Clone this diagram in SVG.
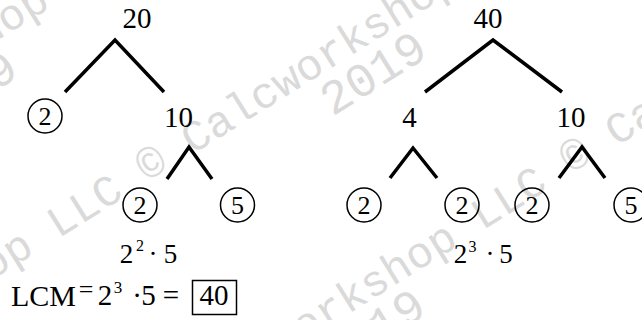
<svg xmlns="http://www.w3.org/2000/svg" width="642" height="320" viewBox="0 0 642 320">
<defs>
<style>
.wm{font-family:"Liberation Mono","Courier New",monospace;font-weight:normal;font-size:44px;fill:#dadada}
.wmy{font-size:48px;text-anchor:middle}
.lbl{font-family:"Liberation Serif","Times New Roman",serif;font-size:29px;fill:#000;text-anchor:middle}
.cl{font-family:"Liberation Serif","Times New Roman",serif;font-size:26px;fill:#000;text-anchor:middle}
.ring{fill:none;stroke:#000;stroke-width:1.5}
.edge{fill:none;stroke:#000;stroke-width:3.5;stroke-linejoin:miter;stroke-linecap:butt}
.eq{font-family:"Liberation Serif","Times New Roman",serif;fill:#000;text-anchor:middle}
.box{fill:none;stroke:#000;stroke-width:1.5}
</style>
</defs>
<rect width="642" height="320" fill="#fff"/>
<g id="watermark" class="wm">
  <g transform="translate(151,163) rotate(-32)">
    <text x="-462" y="15">Calcworkshop LLC © Calcworkshop LLC © Calcworkshop LLC ©</text>
    <text class="wmy" x="236" y="57">2019</text>
    <text class="wmy" x="-265.6" y="57">2019</text>
  </g>
  <g transform="translate(575,155) rotate(-32)">
    <text x="-462" y="15">Calcworkshop LLC © Calcworkshop LLC © Calcworkshop LLC ©</text>
    <text class="wmy" x="-265.6" y="57">2019</text>
  </g>
  <g transform="translate(167,-83) rotate(-32)">
    <text x="-462" y="15">Calcworkshop LLC © Calcworkshop LLC © Calcworkshop LLC ©</text>
    <text class="wmy" x="-265.6" y="57">2019</text>
  </g>
</g>
<g id="connectors">
  <polyline class="edge" points="65,92 115,40 164,92"/>
  <polyline class="edge" points="425,92 493,40 562,92"/>
  <polyline class="edge" points="167,179 189,147 212,179"/>
  <polyline class="edge" points="390,178 413,148 437,178"/>
  <polyline class="edge" points="559,178 582,147 605,178"/>
</g>
<g id="n20"><text class="lbl" x="137" y="28">20</text></g>
<g id="n2a"><circle class="ring" cx="45" cy="116" r="17"/><text class="cl" x="45" y="125">2</text></g>
<g id="n10a"><text class="lbl" x="178.5" y="127">10</text></g>
<g id="n2b"><circle class="ring" cx="140" cy="205" r="17"/><text class="cl" x="140" y="214">2</text></g>
<g id="n5a"><circle class="ring" cx="237.5" cy="205" r="17"/><text class="cl" x="237.5" y="214">5</text></g>
<g id="n40"><text class="lbl" x="488" y="28">40</text></g>
<g id="n4"><text class="lbl" x="409.5" y="127">4</text></g>
<g id="n10b"><text class="lbl" x="571" y="127">10</text></g>
<g id="n2c"><circle class="ring" cx="364" cy="205" r="17"/><text class="cl" x="364" y="214">2</text></g>
<g id="n2d"><circle class="ring" cx="462" cy="205" r="17"/><text class="cl" x="462" y="214">2</text></g>
<g id="n2e"><circle class="ring" cx="532" cy="205" r="17"/><text class="cl" x="532" y="214">2</text></g>
<g id="n5b"><circle class="ring" cx="631" cy="205" r="17"/><text class="cl" x="631" y="214">5</text></g>
<g id="eq-left">
  <text class="eq" font-size="27"><tspan x="126.5" y="263">2</tspan><tspan x="140" y="251" font-size="16">2</tspan><tspan x="153" y="263">·</tspan><tspan x="170.5" y="263">5</tspan></text>
</g>
<g id="eq-right">
  <text class="eq" font-size="27"><tspan x="460.5" y="263">2</tspan><tspan x="472.5" y="252" font-size="16">3</tspan><tspan x="490" y="263">·</tspan><tspan x="506" y="263">5</tspan></text>
</g>
<g id="eq-lcm">
  <text class="eq" font-size="29"><tspan x="43.5" y="306" font-size="30">LCM</tspan><tspan x="86" y="298" font-size="26">=</tspan><tspan x="105" y="305">2</tspan><tspan x="118" y="293" font-size="17">3</tspan><tspan x="137" y="305">·</tspan><tspan x="148.5" y="305">5</tspan><tspan x="171" y="305">=</tspan><tspan x="214" y="305">40</tspan></text>
  <rect class="box" x="192.5" y="280.5" width="44" height="34"/>
</g>
</svg>
